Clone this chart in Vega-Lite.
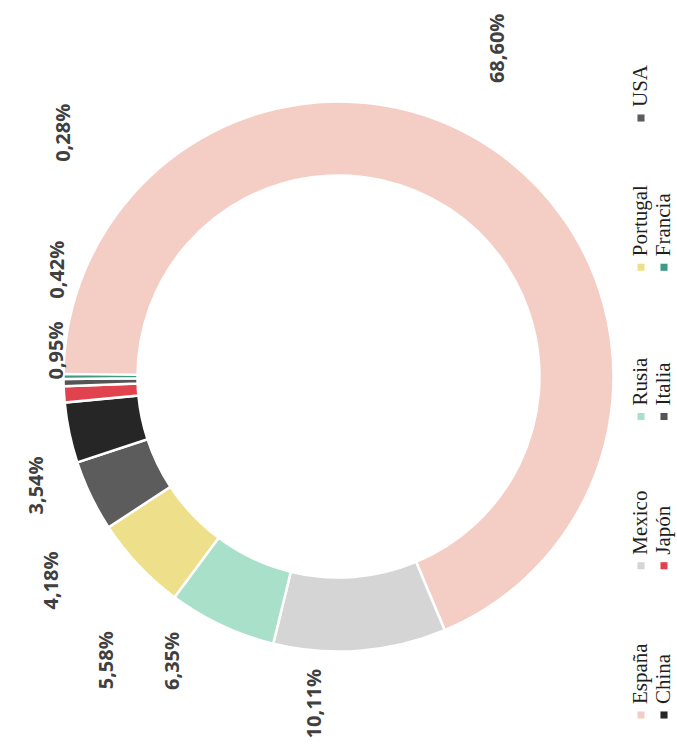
{
  "$schema": "https://vega.github.io/schema/vega-lite/v6.json",
  "width": 677,
  "height": 753,
  "padding": 0,
  "autosize": {"type": "fit", "contains": "padding"},
  "background": "white",
  "config": {"view": {"stroke": null}},
  "data": {
    "values": [
      {"country": "España", "value": 68.60},
      {"country": "Mexico", "value": 10.11},
      {"country": "Rusia", "value": 6.35},
      {"country": "Portugal", "value": 5.58},
      {"country": "USA", "value": 4.18},
      {"country": "China", "value": 3.54},
      {"country": "Japón", "value": 0.95},
      {"country": "Italia", "value": 0.42},
      {"country": "Francia", "value": 0.28}
    ]
  },
  "transform": [
    {"stack": "value", "groupby": [], "sort": [{"field": "value", "order": "descending"}], "as": ["v0", "v1"]},
    {"calculate": "(datum.v0 + datum.v1) / 2", "as": "mid"},
    {"window": [{"op": "row_number", "as": "idx"}], "sort": [{"field": "value", "order": "descending"}]},
    {"calculate": "floor((datum.idx - 1) / 5)", "as": "lrow"},
    {"calculate": "(datum.idx - 1) % 5", "as": "lcol"},
    {"calculate": "replace(format(datum.value, '.2f'), '.', ',') + '%'", "as": "label"}
  ],
  "encoding": {
    "color": {
      "field": "country",
      "type": "nominal",
      "scale": {
        "domain": ["España", "Mexico", "Rusia", "Portugal", "USA", "China", "Japón", "Italia", "Francia"],
        "range": ["#F4CEC5", "#D5D5D5", "#A9E0C9", "#EEE08A", "#5C5C5C", "#262626", "#E0424E", "#555555", "#3F9C82"]
      },
      "legend": null
    }
  },
  "layer": [
    {
      "mark": {"type": "arc", "outerRadius": 275, "innerRadius": 201, "stroke": "white", "strokeWidth": 2.5},
      "encoding": {
        "theta": {"field": "v0", "type": "quantitative", "stack": null, "scale": {"range": [-1.5707963, 4.712389]}},
        "theta2": {"field": "v1"}
      }
    },
    {
      "transform": [{"filter": "datum.country == 'España'"}],
      "mark": {"type": "text", "radius": 365, "thetaOffset": -0.134, "angle": 270, "align": "center", "baseline": "middle", "font": "Open Sans", "fontWeight": "bold", "fontSize": 20},
      "encoding": {"theta": {"field": "mid", "type": "quantitative", "stack": null}, "text": {"field": "label"}, "color": {"value": "#404040"}}
    },
    {
      "transform": [{"filter": "datum.country == 'Mexico'"}],
      "mark": {"type": "text", "radius": 328, "thetaOffset": 0.150, "angle": 270, "align": "center", "baseline": "middle", "font": "Open Sans", "fontWeight": "bold", "fontSize": 20},
      "encoding": {"theta": {"field": "mid", "type": "quantitative", "stack": null}, "text": {"field": "label"}, "color": {"value": "#404040"}}
    },
    {
      "transform": [{"filter": "datum.country == 'Rusia'"}],
      "mark": {"type": "text", "radius": 329, "thetaOffset": 0.087, "angle": 270, "align": "center", "baseline": "middle", "font": "Open Sans", "fontWeight": "bold", "fontSize": 20},
      "encoding": {"theta": {"field": "mid", "type": "quantitative", "stack": null}, "text": {"field": "label"}, "color": {"value": "#404040"}}
    },
    {
      "transform": [{"filter": "datum.country == 'Portugal'"}],
      "mark": {"type": "text", "radius": 366, "thetaOffset": -0.131, "angle": 270, "align": "center", "baseline": "middle", "font": "Open Sans", "fontWeight": "bold", "fontSize": 20},
      "encoding": {"theta": {"field": "mid", "type": "quantitative", "stack": null}, "text": {"field": "label"}, "color": {"value": "#404040"}}
    },
    {
      "transform": [{"filter": "datum.country == 'USA'"}],
      "mark": {"type": "text", "radius": 352, "thetaOffset": -0.169, "angle": 270, "align": "center", "baseline": "middle", "font": "Open Sans", "fontWeight": "bold", "fontSize": 20},
      "encoding": {"theta": {"field": "mid", "type": "quantitative", "stack": null}, "text": {"field": "label"}, "color": {"value": "#404040"}}
    },
    {
      "transform": [{"filter": "datum.country == 'China'"}],
      "mark": {"type": "text", "radius": 321, "thetaOffset": -0.140, "angle": 270, "align": "center", "baseline": "middle", "font": "Open Sans", "fontWeight": "bold", "fontSize": 20},
      "encoding": {"theta": {"field": "mid", "type": "quantitative", "stack": null}, "text": {"field": "label"}, "color": {"value": "#404040"}}
    },
    {
      "transform": [{"filter": "datum.country == 'Japón'"}],
      "mark": {"type": "text", "radius": 283, "thetaOffset": 0.157, "angle": 270, "align": "center", "baseline": "middle", "font": "Open Sans", "fontWeight": "bold", "fontSize": 20},
      "encoding": {"theta": {"field": "mid", "type": "quantitative", "stack": null}, "text": {"field": "label"}, "color": {"value": "#404040"}}
    },
    {
      "transform": [{"filter": "datum.country == 'Italia'"}],
      "mark": {"type": "text", "radius": 300, "thetaOffset": 0.386, "angle": 270, "align": "center", "baseline": "middle", "font": "Open Sans", "fontWeight": "bold", "fontSize": 20},
      "encoding": {"theta": {"field": "mid", "type": "quantitative", "stack": null}, "text": {"field": "label"}, "color": {"value": "#404040"}}
    },
    {
      "transform": [{"filter": "datum.country == 'Francia'"}],
      "mark": {"type": "text", "radius": 367, "thetaOffset": 0.726, "angle": 270, "align": "center", "baseline": "middle", "font": "Open Sans", "fontWeight": "bold", "fontSize": 20},
      "encoding": {"theta": {"field": "mid", "type": "quantitative", "stack": null}, "text": {"field": "label"}, "color": {"value": "#404040"}}
    },
    {
      "mark": {"type": "square", "size": 50, "filled": true, "opacity": 1},
      "encoding": {
        "x": {"field": "lrow", "type": "quantitative", "scale": {"domain": [0, 1], "range": [641, 664]}, "axis": null},
        "y": {"field": "lcol", "type": "quantitative", "scale": {"domain": [0, 4], "range": [715, 118]}, "axis": null}
      }
    },
    {
      "mark": {"type": "text", "angle": 270, "align": "left", "baseline": "middle", "dx": 11, "font": "Liberation Serif", "fontSize": 21},
      "encoding": {
        "x": {"field": "lrow", "type": "quantitative", "axis": null},
        "y": {"field": "lcol", "type": "quantitative", "axis": null},
        "text": {"field": "country"},
        "color": {"value": "#1f1f1f"}
      }
    }
  ]
}
